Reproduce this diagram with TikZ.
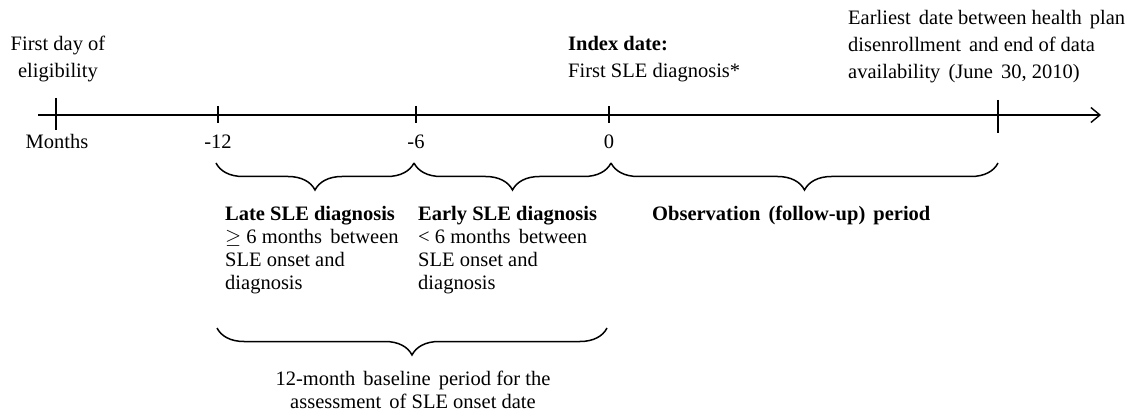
\documentclass[tikz,border=0pt]{standalone}
\usepackage{fontspec}
\setmainfont{Liberation Serif}
\usetikzlibrary{arrows.meta,decorations.pathreplacing}
\newcommand{\gap}{\hspace{3pt}}

\begin{document}
\begin{tikzpicture}[x=1pt,y=-1pt,>={Straight Barb[length=9pt,width=15pt]}]
    \tikzstyle{lbl}=[inner sep=0pt,font=\fontsize{20.5}{23}\selectfont]
    \tikzstyle{top}=[lbl,font=\fontsize{20.5}{27}\selectfont,align=left,anchor=north west]
    \tikzstyle{low}=[lbl,align=left,anchor=north west]
    \tikzstyle{num}=[lbl,anchor=base]
    \tikzstyle{brc}=[line width=1.5pt,decorate,decoration={brace,mirror,amplitude=27pt}]

    \useasboundingbox (0,0) rectangle (1134,419);

    % time axis
    \coordinate(ax0) at (38,115);
    \coordinate(ax1) at (1101,115);
    \draw [line width=1.4pt,->] (ax0) -- (ax1);

    \coordinate(e0) at (56,98);   \coordinate(e1) at (56,130);
    \coordinate(m0) at (218,106); \coordinate(m1) at (218,123);
    \coordinate(s0) at (416,106); \coordinate(s1) at (416,123);
    \coordinate(z0) at (609,106); \coordinate(z1) at (609,123);
    \coordinate(f0) at (998,100); \coordinate(f1) at (998,133);
    \draw [line width=1.4pt] (e0) -- (e1);
    \draw [line width=1.4pt] (m0) -- (m1);
    \draw [line width=1.4pt] (s0) -- (s1);
    \draw [line width=1.4pt] (z0) -- (z1);
    \draw [line width=1.4pt] (f0) -- (f1);

    % labels above the axis
    \node(elig) [top,align=center,anchor=north] at (58,36) {First day of\\eligibility};
    \node(index) [top] at (568,36) {\textbf{Index date:}\\First SLE diagnosis*};
    \node(last) [top] at (848,10) {Earliest\gap{} date between health\gap{} plan\\disenrollment\gap{} and end of data\\availability\gap{} (June\gap{} 30, 2010)};

    % month numbers
    \node(months) [num] at (57,149) {Months};
    \node(n12) [num] at (218,149) {-12};
    \node(n6) [num] at (416,149) {-6};
    \node(n0) [num] at (609,149) {0};

    % periods
    \coordinate(b0) at (216,163);
    \coordinate(b1) at (414,163);
    \coordinate(b2) at (611,163);
    \coordinate(b3) at (998,163);
    \draw [brc] (b0) -- (b1);
    \draw [brc] (b1) -- (b2);
    \draw [brc] (b2) -- (b3);

    \node(late) [low] at (225,206) {\textbf{Late SLE diagnosis}\\$\geq$ 6 months\gap{} between\\SLE onset and\\diagnosis};
    \node(early) [low] at (418,206) {\textbf{Early SLE diagnosis}\\< 6 months\gap{} between\\SLE onset and\\diagnosis};
    \node(obs) [low] at (652,206) {\textbf{Observation\gap{} (follow-up)\gap{} period}};

    \coordinate(c0) at (217,328);
    \coordinate(c1) at (607,328);
    \draw [brc] (c0) -- (c1);
    \node(base) [low,align=center,anchor=north] at (413,371) {12-month\gap{} baseline\gap{} period for the\\assessment\gap{} of SLE onset date};

\end{tikzpicture}
\end{document}
